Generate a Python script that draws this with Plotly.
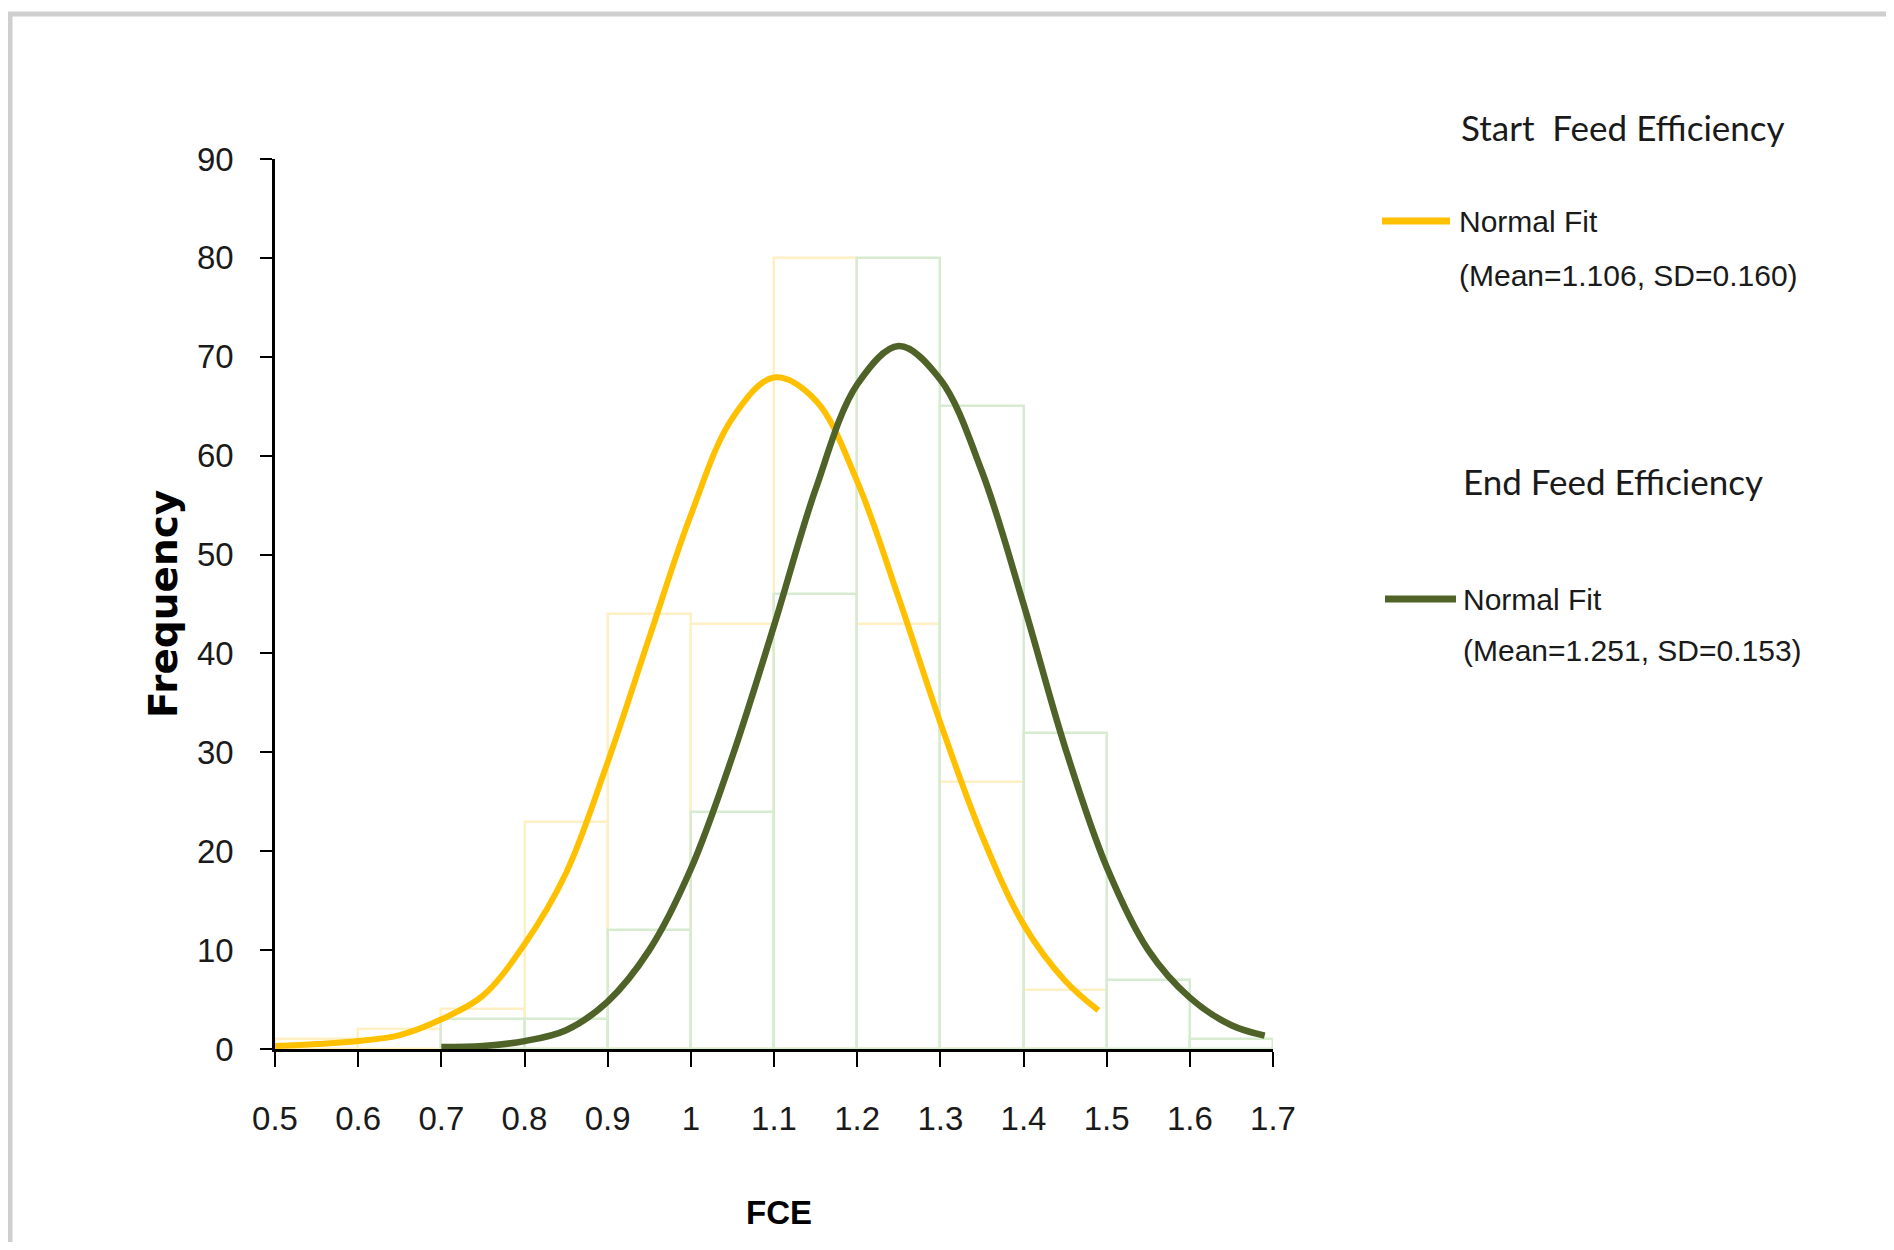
import plotly.graph_objects as go

# ---------------- data ----------------
bin_centers = [0.55, 0.65, 0.75, 0.85, 0.95, 1.05, 1.15, 1.25, 1.35, 1.45, 1.55, 1.65]
start_counts = [1, 2, 4, 23, 44, 43, 80, 43, 27, 6, None, None]
end_counts = [None, None, 3, 3, 12, 24, 46, 80, 65, 32, 7, 1]

start_fit_x = [0.50, 0.55, 0.60, 0.65, 0.70, 0.75, 0.80, 0.85, 0.90, 0.95, 1.00, 1.05,
               1.10, 1.15, 1.20, 1.25, 1.30, 1.35, 1.40, 1.45, 1.49]
start_fit_y = [0.3, 0.5, 0.8, 1.4, 3.0, 5.4, 10.6, 17.8, 29.0, 41.6, 54.0, 63.8,
               67.9, 65.6, 57.4, 45.6, 33.0, 21.6, 12.6, 6.9, 3.9]

end_fit_x = [0.70, 0.75, 0.80, 0.85, 0.90, 0.95, 1.00, 1.05, 1.10, 1.15, 1.20, 1.25,
             1.30, 1.35, 1.40, 1.45, 1.50, 1.55, 1.60, 1.65, 1.69]
end_fit_y = [0.2, 0.3, 0.8, 1.9, 4.8, 10.0, 18.2, 29.6, 42.8, 56.6, 67.2, 71.1,
             67.7, 58.4, 45.0, 30.5, 18.4, 10.0, 5.2, 2.4, 1.35]

x_ticks = [0.5, 0.6, 0.7, 0.8, 0.9, 1.0, 1.1, 1.2, 1.3, 1.4, 1.5, 1.6, 1.7]
x_tick_labels = ["0.5", "0.6", "0.7", "0.8", "0.9", "1", "1.1", "1.2", "1.3", "1.4", "1.5", "1.6", "1.7"]
y_ticks = [0, 10, 20, 30, 40, 50, 60, 70, 80, 90]

start_title = "Start\u00a0\u00a0Feed Efficiency"
end_title = "End Feed Efficiency"
start_label = ["Normal Fit", "(Mean=1.106, SD=0.160)"]
end_label = ["Normal Fit", "(Mean=1.251, SD=0.153)"]

# ---------------- style ----------------
YELLOW = "#FFC000"
GREEN = "#4F6228"
YELLOW_BAR = "#FFF0C4"
GREEN_BAR = "#D6EBD0"
ARIAL = "Liberation Sans, Arial, sans-serif"
CALIBRI = "Lato, Liberation Sans, sans-serif"
TXT = "#1a1a1a"

fig = go.Figure()

fig.add_trace(go.Bar(
    x=bin_centers, y=start_counts, width=0.1,
    marker=dict(color="rgba(0,0,0,0)", line=dict(color=YELLOW_BAR, width=2.5)),
    showlegend=False, hoverinfo="skip"))
fig.add_trace(go.Bar(
    x=bin_centers, y=end_counts, width=0.1,
    marker=dict(color="rgba(0,0,0,0)", line=dict(color=GREEN_BAR, width=2.5)),
    showlegend=False, hoverinfo="skip"))

fig.add_trace(go.Scatter(
    x=start_fit_x, y=start_fit_y, mode="lines", line=dict(color=YELLOW, width=6, shape="spline"),
    showlegend=False, cliponaxis=False))
fig.add_trace(go.Scatter(
    x=end_fit_x, y=end_fit_y, mode="lines", line=dict(color=GREEN, width=6.5, shape="spline"),
    showlegend=False, cliponaxis=False))

W, H = 1878, 1234
L, R, T, B = 267, 613, 151, 193
pw = W - L - R
ph = H - T - B


def px(xf):  # full-image x -> paper
    return ((xf - 8) - L) / pw


def py(yf):  # full-image y -> paper
    return ((H - B) - (yf - 8)) / ph


annotations = [
    dict(text="Frequency", x=px(163), y=py(604), xref="paper", yref="paper", textangle=-90,
         showarrow=False, xanchor="center", yanchor="middle",
         font=dict(family="DejaVu Sans, sans-serif", size=39, color="#000000", weight="bold")),
    dict(text="FCE", x=px(779), y=py(1212), xref="paper", yref="paper",
         showarrow=False, xanchor="center", yanchor="middle",
         font=dict(family=ARIAL, size=33, color="#000000", weight="bold")),
    dict(text=start_title, x=px(1459), y=py(127), xref="paper", yref="paper",
         showarrow=False, xanchor="left", yanchor="middle",
         font=dict(family=CALIBRI, size=35, color=TXT)),
    dict(text=start_label[0], x=px(1457), y=py(222), xref="paper", yref="paper",
         showarrow=False, xanchor="left", yanchor="middle",
         font=dict(family=ARIAL, size=30, color=TXT)),
    dict(text=start_label[1], x=px(1457), y=py(275), xref="paper", yref="paper",
         showarrow=False, xanchor="left", yanchor="middle",
         font=dict(family=ARIAL, size=30, color=TXT)),
    dict(text=end_title, x=px(1461), y=py(481), xref="paper", yref="paper",
         showarrow=False, xanchor="left", yanchor="middle",
         font=dict(family=CALIBRI, size=35, color=TXT)),
    dict(text=end_label[0], x=px(1461), y=py(599), xref="paper", yref="paper",
         showarrow=False, xanchor="left", yanchor="middle",
         font=dict(family=ARIAL, size=30, color=TXT)),
    dict(text=end_label[1], x=px(1461), y=py(650), xref="paper", yref="paper",
         showarrow=False, xanchor="left", yanchor="middle",
         font=dict(family=ARIAL, size=30, color=TXT)),
]

shapes = [
    # outer frame (gray)
    dict(type="rect", xref="paper", yref="paper", x0=px(10), x1=px(1960), y0=py(1400), y1=py(14),
         line=dict(color="#CFCFCF", width=5), fillcolor="rgba(0,0,0,0)", layer="below"),
    # legend samples
    dict(type="line", xref="paper", yref="paper", x0=px(1382), x1=px(1450), y0=py(221), y1=py(221),
         line=dict(color=YELLOW, width=7)),
    dict(type="line", xref="paper", yref="paper", x0=px(1385), x1=px(1456), y0=py(599), y1=py(599),
         line=dict(color=GREEN, width=7)),
]

fig.update_layout(
    width=W, height=H,
    margin=dict(l=L, r=R, t=T, b=B, pad=0),
    paper_bgcolor="white", plot_bgcolor="white",
    barmode="overlay", bargap=0,
    showlegend=False,
    annotations=annotations,
    shapes=shapes,
    xaxis=dict(range=[0.5, 1.7], tickvals=x_ticks, ticktext=x_tick_labels,
               showgrid=False, zeroline=False, showline=True, linecolor="#000000", linewidth=2.5,
               ticks="outside", ticklen=15, tickwidth=2, tickcolor="#000000",
               ticklabelstandoff=24,
               tickfont=dict(family=ARIAL, size=33, color=TXT)),
    yaxis=dict(range=[0, 90], tickvals=y_ticks,
               showgrid=False, zeroline=False, showline=True, linecolor="#000000", linewidth=2.5,
               ticks="outside", ticklen=12, tickwidth=2, tickcolor="#000000",
               ticklabelstandoff=20,
               tickfont=dict(family=ARIAL, size=33, color=TXT)),
)

fig.write_html("out.html")
